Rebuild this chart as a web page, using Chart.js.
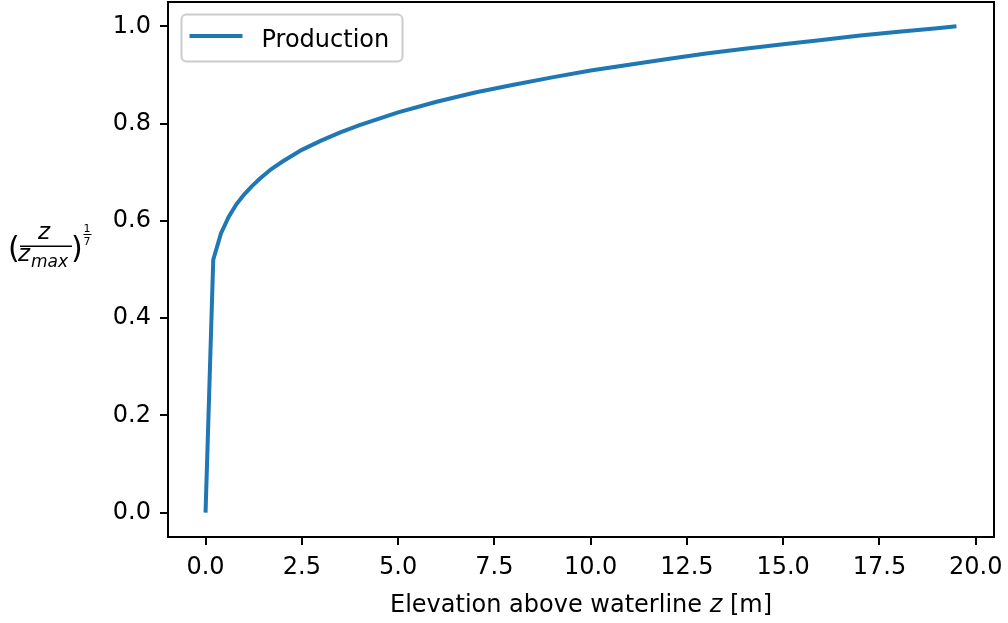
<!DOCTYPE html>
<html>
<head>
<meta charset="utf-8">
<script src="https://cdn.jsdelivr.net/npm/chart.js@4.4.1/dist/chart.umd.min.js"></script>
<style>
  body { margin: 0; background: #fff; }
  #wrap { width: 1008px; height: 623px; }
</style>
</head>
<body>
<div id="wrap"><canvas id="chart" width="1008" height="623"></canvas></div>
<script>
// values
const zValues = [0, 0.2, 0.4, 0.6, 0.8, 1.0, 1.2, 1.4, 1.7, 2.0, 2.5, 3.0, 3.5, 4, 5, 6, 7, 8, 9, 10, 11, 12, 13, 14, 15, 16, 17, 18, 19, 19.5];
const ratioValues = [0, 0.520, 0.574, 0.608, 0.634, 0.654, 0.671, 0.686, 0.706, 0.722, 0.746, 0.765, 0.782, 0.797, 0.823, 0.845, 0.864, 0.880, 0.895, 0.909, 0.921, 0.933, 0.944, 0.954, 0.963, 0.972, 0.981, 0.989, 0.996, 1.0];
const xTicks = [0, 2.5, 5, 7.5, 10, 12.5, 15, 17.5, 20];
const yTicks = [0, 0.2, 0.4, 0.6, 0.8, 1.0];
const seriesName = 'Production';

const FONT = "'DejaVu Sans', 'Liberation Sans', sans-serif";
const BLUE = '#1f77b4';

const points = zValues.map((z, i) => ({ x: z, y: ratioValues[i] }));

// frame, legend and math labels (matplotlib look)
const decorPlugin = {
  id: 'decor',
  afterDraw(chart) {
    const ctx = chart.ctx;
    const a = chart.chartArea;
    ctx.save();

    // frame
    ctx.strokeStyle = '#000';
    ctx.lineWidth = 2;
    ctx.strokeRect(a.left, a.top, a.right - a.left, a.bottom - a.top);

    // legend
    const lx = a.left + 13.5, ly = a.top + 12.5;
    ctx.beginPath();
    ctx.roundRect(lx, ly, 221, 47, 5);
    ctx.fillStyle = 'rgba(255,255,255,0.8)';
    ctx.fill();
    ctx.strokeStyle = '#cccccc';
    ctx.lineWidth = 2;
    ctx.stroke();
    ctx.beginPath();
    ctx.moveTo(lx + 8, ly + 21.5);
    ctx.lineTo(lx + 61, ly + 21.5);
    ctx.strokeStyle = BLUE;
    ctx.lineWidth = 4;
    ctx.stroke();
    ctx.fillStyle = '#000';
    ctx.font = '24px ' + FONT;
    ctx.textAlign = 'left';
    ctx.textBaseline = 'alphabetic';
    ctx.fillText(seriesName, lx + 80, ly + 32.5);

    // x axis title with italic z
    const p1 = 'Elevation above waterline ', p2 = 'z', p3 = ' [m]';
    ctx.font = '24px ' + FONT;
    const w1 = ctx.measureText(p1).width, w3 = ctx.measureText(p3).width;
    ctx.font = 'italic 24px ' + FONT;
    const w2 = ctx.measureText(p2).width;
    let tx = (a.left + a.right) / 2 - (w1 + w2 + w3) / 2;
    const ty = 612;
    ctx.font = '24px ' + FONT;
    ctx.fillText(p1, tx, ty);
    ctx.font = 'italic 24px ' + FONT;
    ctx.fillText(p2, tx + w1, ty);
    ctx.font = '24px ' + FONT;
    ctx.fillText(p3, tx + w1 + w2, ty);

    // y axis label: (z / z_max)^(1/7)
    ctx.font = '30px ' + FONT;
    ctx.fillText('(', 8, 258);
    ctx.fillText(')', 71, 258);
    ctx.font = 'italic 23px ' + FONT;
    ctx.textAlign = 'center';
    ctx.fillText('z', 44, 239);
    ctx.textAlign = 'left';
    ctx.fillText('z', 18, 261);
    ctx.font = 'italic 17px ' + FONT;
    ctx.fillText('max', 31, 267);
    ctx.fillRect(20, 245.5, 52, 1.5);
    ctx.font = '11px ' + FONT;
    ctx.textAlign = 'center';
    ctx.fillText('1', 87, 232);
    ctx.fillText('7', 87, 245);
    ctx.fillRect(83.5, 234, 8, 1);

    ctx.restore();
  }
};

new Chart(document.getElementById('chart'), {
  type: 'line',
  data: {
    datasets: [{
      label: seriesName,
      data: points,
      borderColor: BLUE,
      borderWidth: 4,
      pointRadius: 0,
      tension: 0,
      fill: false
    }]
  },
  options: {
    responsive: false,
    animation: false,
    devicePixelRatio: 1,
    layout: { padding: { top: 2, right: 14, left: 0, bottom: 0 } },
    plugins: {
      legend: { display: false },
      tooltip: { enabled: false }
    },
    scales: {
      x: {
        type: 'linear',
        min: -0.975,
        max: 20.475,
        afterBuildTicks: (scale) => { scale.ticks = xTicks.map(v => ({ value: v })); },
        afterFit: (scale) => {
          scale.height = 86;
          scale.paddingLeft = 0; scale.paddingRight = 0;
        },
        ticks: {
          font: { family: FONT, size: 24 },
          color: '#000',
          padding: 8,
          maxRotation: 0,
          autoSkip: false,
          callback: (v) => v.toFixed(1)
        },
        grid: { drawOnChartArea: false, drawTicks: true, tickLength: 8, color: '#000', lineWidth: 2 },
        border: { display: false }
      },
      y: {
        min: -0.05,
        max: 1.05,
        afterBuildTicks: (scale) => { scale.ticks = yTicks.map(v => ({ value: v })); },
        afterFit: (scale) => {
          scale.width = 168;
          scale.paddingTop = 0; scale.paddingBottom = 0;
        },
        ticks: {
          font: { family: FONT, size: 24 },
          color: '#000',
          padding: 9,
          autoSkip: false,
          callback: (v) => v.toFixed(1)
        },
        grid: { drawOnChartArea: false, drawTicks: true, tickLength: 8, color: '#000', lineWidth: 2 },
        border: { display: false }
      }
    }
  },
  plugins: [decorPlugin]
});
</script>
</body>
</html>
